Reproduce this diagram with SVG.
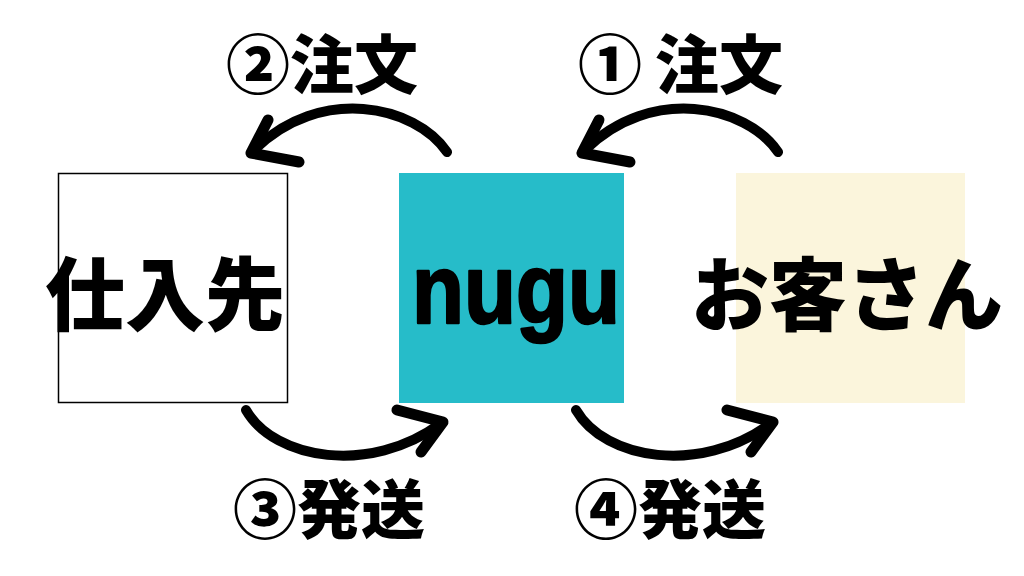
<svg xmlns="http://www.w3.org/2000/svg" width="1024" height="576" viewBox="0 0 1024 576">
<style>
.lbl{font-family:"Noto Sans CJK JP","Noto Sans",sans-serif;font-weight:900;font-size:64px;fill:#000}
.big{font-family:"Noto Sans CJK JP","Noto Sans",sans-serif;font-weight:900;font-size:80px;fill:#000}
.lat{font-family:"Liberation Sans",Arial,sans-serif;font-weight:700;font-size:98px;fill:#000;stroke:#000;stroke-width:2.5;stroke-linejoin:round}
.arc{fill:none;stroke:#000;stroke-width:10;stroke-linecap:round}
.head{fill:none;stroke:#000;stroke-width:11;stroke-linecap:round;stroke-linejoin:round}
</style>
<rect width="1024" height="576" fill="#fff"/>
<g id="shiiresaki">
<rect x="58.5" y="173.5" width="229" height="229" fill="#fff" stroke="#000" stroke-width="1.5"/>
<text class="big" x="45" y="324">仕入先</text>
</g>
<g id="nugu">
<rect x="399" y="173" width="225" height="230" fill="#26BCC9"/>
<text class="lat" x="412" y="323" textLength="208" lengthAdjust="spacingAndGlyphs">nugu</text>
</g>
<g id="okyakusan">
<rect x="736" y="173" width="229" height="230" fill="#FBF5DC"/>
<text class="big" x="691" y="324" textLength="312" lengthAdjust="spacingAndGlyphs">お客さん</text>
</g>
<g id="connectors">
<path class="arc" d="M447,152 C415,105 320,85 254,150"/>
<path class="head" d="M268,120 L251,153 L299,162"/>
<path class="arc" d="M778,152 C746,105 651,85 585,150"/>
<path class="head" d="M599,120 L582,153 L630,162"/>
<path class="arc" d="M246,410 C275,460 370,475 440,424"/>
<path class="head" d="M397,410 L443,422 L421,452"/>
<path class="arc" d="M576,410 C605,460 700,475 770,424"/>
<path class="head" d="M727,410 L773,422 L751,452"/>
</g>
<g id="labels">
<text class="lbl" x="226" y="88">②注文</text>
<text class="lbl" x="578" y="88">① <tspan x="655">注文</tspan></text>
<text class="lbl" x="233" y="533">③発送</text>
<text class="lbl" x="574" y="533">④発送</text>
</g>
</svg>
